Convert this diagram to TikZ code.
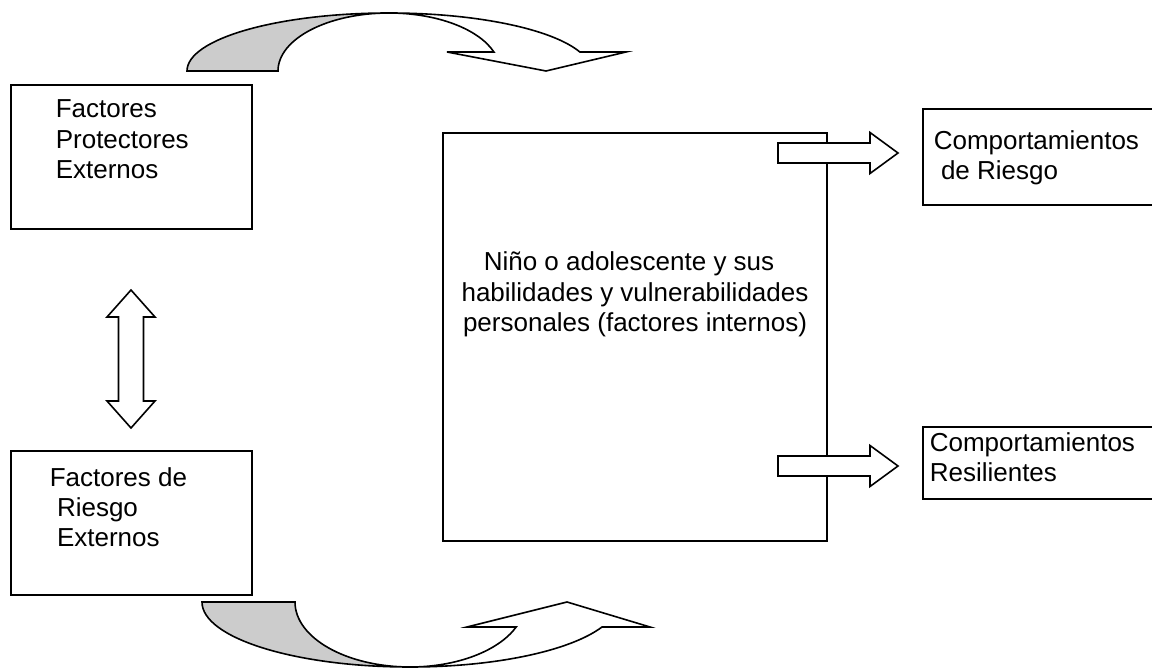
\documentclass[tikz,border=0pt]{standalone}
\usepackage{fontspec}
\setmainfont{Liberation Sans}
\begin{document}
\begin{tikzpicture}[x=1pt,y=1pt,
  line width=1.6pt,
  box/.style={draw, line width=1.6pt, inner sep=0pt, fill=white},
  txt/.style={inner sep=0pt, font=\fontsize{26}{30.5}\selectfont},
  band/.style={draw, line width=1.6pt, line join=miter},
  blockarrow/.style={draw, fill=white, line width=1.6pt, line join=miter}
]
\useasboundingbox (0,0) rectangle (1152,670);
\clip (0,0) rectangle (1152,670);

% boxes
\node[box, minimum width=241pt, minimum height=144pt] (fpe) at (131.5,513) {};
\node[box, minimum width=241pt, minimum height=144pt] (fre) at (131.5,147) {};
\node[box, minimum width=384pt, minimum height=408pt] (nino) at (635,333) {};
\node[box, minimum width=300pt, minimum height=96pt] (cr) at (1073,513) {};
\node[box, minimum width=300pt, minimum height=72pt] (cres) at (1073,207) {};

% texts (anchor = baseline of the last line)
\node[txt, anchor=base west, align=left] (fpet) at (55,491) {Factores\\Protectores\\Externos};
\node[txt, anchor=base west, align=left] (fret) at (49,123) {Factores de\\\hspace*{0.278em}Riesgo\\\hspace*{0.278em}Externos};
\node[txt, anchor=base, align=center] (ninot) at (635,338) {Niño o adolescente y sus\hspace*{12pt}\\habilidades y vulnerabilidades\\personales (factores internos)};
\node[txt, anchor=base west, align=left] (crt) at (933,490) {Comportamientos\\\hspace*{0.278em}de Riesgo};
\node[txt, anchor=base west, align=left] (crest) at (929,188) {Comportamientos\\Resilientes};

% straight block arrows
\coordinate (a1tip) at (898,517);
\coordinate (a2tip) at (898,204);
\draw[blockarrow] ([shift={(-120,-10)}]a1tip) -- ([shift={(-28,-10)}]a1tip) -- ([shift={(-28,-20.5)}]a1tip)
  -- (a1tip) -- ([shift={(-28,20.5)}]a1tip) -- ([shift={(-28,10)}]a1tip) -- ([shift={(-120,10)}]a1tip) -- cycle;
\draw[blockarrow] ([shift={(-120,-10)}]a2tip) -- ([shift={(-28,-10)}]a2tip) -- ([shift={(-28,-20.5)}]a2tip)
  -- (a2tip) -- ([shift={(-28,20.5)}]a2tip) -- ([shift={(-28,10)}]a2tip) -- ([shift={(-120,10)}]a2tip) -- cycle;

% double vertical block arrow
\coordinate (dtop) at (131,380);
\coordinate (dbot) at (131,242);
\draw[blockarrow] (dtop) -- ++(24,-27) -- ++(-11.5,0) |- ([shift={(12.5,27)}]dbot) -- ++(11.5,0)
  -- (dbot) -- ++(-24,27) -- ++(11.5,0) |- ([shift={(-12.5,-27)}]dtop) -- ++(-11.5,0) -- cycle;

% top curved arrow
\draw[band, fill=gray!40] (187,599) arc[start angle=180, end angle=90, x radius=202, y radius=58]
  arc[start angle=90, end angle=180, x radius=111, y radius=58] -- cycle;
\draw[band, fill=white] (389,657) arc[start angle=90, end angle=19.12, x radius=202, y radius=58]
  -- (626,618) -- (546,599) -- (447,618) -- (493.9,618)
  arc[start angle=19.12, end angle=90, x radius=111, y radius=58] -- cycle;

% bottom curved arrow
\draw[band, fill=gray!40] (202,68) arc[start angle=180, end angle=270, x radius=208, y radius=65]
  arc[start angle=270, end angle=180, x radius=115, y radius=65] -- cycle;
\draw[band, fill=white] (410,3) arc[start angle=270, end angle=337.38, x radius=208, y radius=65]
  -- (650,43) -- (567,68) -- (467,43) -- (516.2,43)
  arc[start angle=337.38, end angle=270, x radius=115, y radius=65] -- cycle;
\end{tikzpicture}
\end{document}
